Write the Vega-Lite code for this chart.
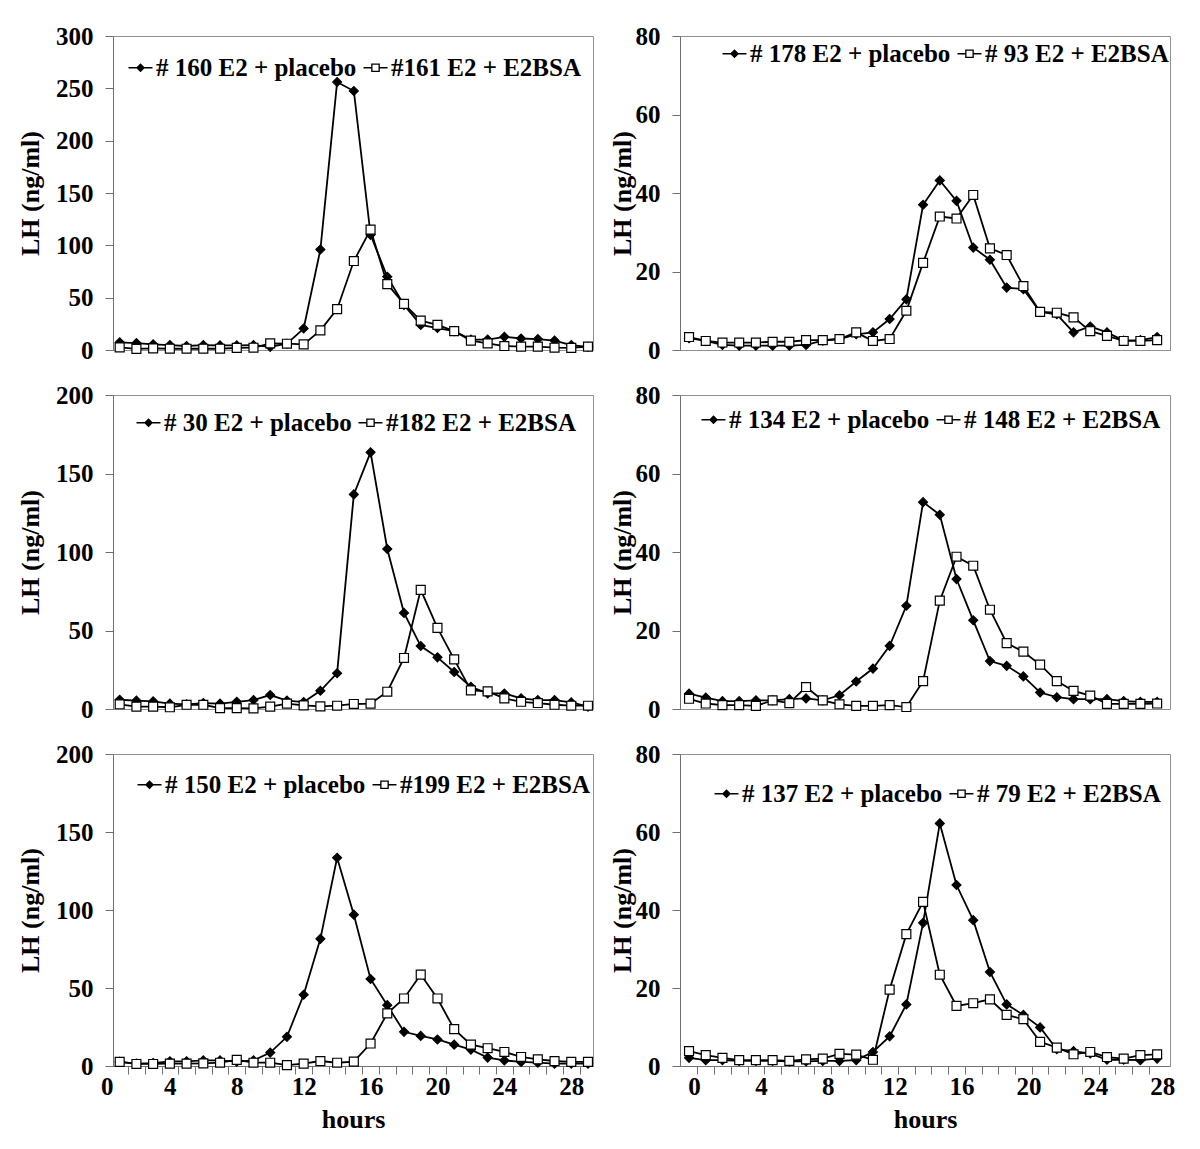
{
"$schema": "https://vega.github.io/schema/vega-lite/v6.json",
"background": "white",
"padding": {"left": 17, "top": 23, "right": 5, "bottom": 5},
"config": {
  "font": "Liberation Serif",
  "view": {"stroke": "#909090", "strokeWidth": 1},
  "axis": {"labelFont": "Liberation Serif", "labelFontSize": 25, "labelFontWeight": "bold", "labelColor": "black", "titleFont": "Liberation Serif", "titleFontSize": 26, "titleFontWeight": "bold", "titleColor": "black", "domainColor": "#707070", "tickColor": "#707070", "tickSize": 8, "grid": false, "labelPadding": 12},
  "legend": {"orient": "none", "direction": "horizontal", "labelFont": "Liberation Serif", "labelFontSize": 25, "labelFontWeight": "bold", "labelColor": "black", "labelLimit": 500, "symbolSize": 576, "symbolStrokeWidth": 0, "symbolOpacity": 1, "symbolFillColor": "black", "columnPadding": 6, "labelOffset": 3, "padding": 0}
},
"datasets": {
 "p1": [
  {"hour":1,"LH":7.3,"series":"# 160 E2 + placebo"},{"hour":2,"LH":6.6,"series":"# 160 E2 + placebo"},{"hour":3,"LH":5.4,"series":"# 160 E2 + placebo"},{"hour":4,"LH":4.7,"series":"# 160 E2 + placebo"},{"hour":5,"LH":3.8,"series":"# 160 E2 + placebo"},{"hour":6,"LH":4.7,"series":"# 160 E2 + placebo"},{"hour":7,"LH":4.4,"series":"# 160 E2 + placebo"},{"hour":8,"LH":4.4,"series":"# 160 E2 + placebo"},{"hour":9,"LH":4.7,"series":"# 160 E2 + placebo"},{"hour":10,"LH":3,"series":"# 160 E2 + placebo"},{"hour":11,"LH":6,"series":"# 160 E2 + placebo"},{"hour":12,"LH":20.5,"series":"# 160 E2 + placebo"},{"hour":13,"LH":96,"series":"# 160 E2 + placebo"},{"hour":14,"LH":256,"series":"# 160 E2 + placebo"},{"hour":15,"LH":247.5,"series":"# 160 E2 + placebo"},{"hour":16,"LH":110,"series":"# 160 E2 + placebo"},{"hour":17,"LH":70,"series":"# 160 E2 + placebo"},{"hour":18,"LH":43,"series":"# 160 E2 + placebo"},{"hour":19,"LH":24,"series":"# 160 E2 + placebo"},{"hour":20,"LH":21,"series":"# 160 E2 + placebo"},{"hour":21,"LH":18,"series":"# 160 E2 + placebo"},{"hour":22,"LH":10,"series":"# 160 E2 + placebo"},{"hour":23,"LH":10,"series":"# 160 E2 + placebo"},{"hour":24,"LH":12.6,"series":"# 160 E2 + placebo"},{"hour":25,"LH":11,"series":"# 160 E2 + placebo"},{"hour":26,"LH":10.4,"series":"# 160 E2 + placebo"},{"hour":27,"LH":9,"series":"# 160 E2 + placebo"},{"hour":28,"LH":4.7,"series":"# 160 E2 + placebo"},{"hour":29,"LH":3,"series":"# 160 E2 + placebo"},
  {"hour":1,"LH":2.5,"series":"#161 E2 + E2BSA"},{"hour":2,"LH":1,"series":"#161 E2 + E2BSA"},{"hour":3,"LH":1.5,"series":"#161 E2 + E2BSA"},{"hour":4,"LH":1.2,"series":"#161 E2 + E2BSA"},{"hour":5,"LH":1.2,"series":"#161 E2 + E2BSA"},{"hour":6,"LH":1.2,"series":"#161 E2 + E2BSA"},{"hour":7,"LH":1.2,"series":"#161 E2 + E2BSA"},{"hour":8,"LH":2,"series":"#161 E2 + E2BSA"},{"hour":9,"LH":2.2,"series":"#161 E2 + E2BSA"},{"hour":10,"LH":6.3,"series":"#161 E2 + E2BSA"},{"hour":11,"LH":6,"series":"#161 E2 + E2BSA"},{"hour":12,"LH":5.4,"series":"#161 E2 + E2BSA"},{"hour":13,"LH":18.7,"series":"#161 E2 + E2BSA"},{"hour":14,"LH":39,"series":"#161 E2 + E2BSA"},{"hour":15,"LH":85,"series":"#161 E2 + E2BSA"},{"hour":16,"LH":115,"series":"#161 E2 + E2BSA"},{"hour":17,"LH":63,"series":"#161 E2 + E2BSA"},{"hour":18,"LH":44,"series":"#161 E2 + E2BSA"},{"hour":19,"LH":28,"series":"#161 E2 + E2BSA"},{"hour":20,"LH":24,"series":"#161 E2 + E2BSA"},{"hour":21,"LH":18,"series":"#161 E2 + E2BSA"},{"hour":22,"LH":9,"series":"#161 E2 + E2BSA"},{"hour":23,"LH":6.3,"series":"#161 E2 + E2BSA"},{"hour":24,"LH":3.8,"series":"#161 E2 + E2BSA"},{"hour":25,"LH":3.2,"series":"#161 E2 + E2BSA"},{"hour":26,"LH":3.2,"series":"#161 E2 + E2BSA"},{"hour":27,"LH":2.2,"series":"#161 E2 + E2BSA"},{"hour":28,"LH":2,"series":"#161 E2 + E2BSA"},{"hour":29,"LH":3.2,"series":"#161 E2 + E2BSA"}
 ],
 "p2": [
  {"hour":-0.3,"LH":3.0,"series":"# 178 E2 + placebo"},{"hour":0.7,"LH":2.3,"series":"# 178 E2 + placebo"},{"hour":1.7,"LH":1.3,"series":"# 178 E2 + placebo"},{"hour":2.7,"LH":1.1,"series":"# 178 E2 + placebo"},{"hour":3.7,"LH":1.1,"series":"# 178 E2 + placebo"},{"hour":4.7,"LH":1.1,"series":"# 178 E2 + placebo"},{"hour":5.7,"LH":1.1,"series":"# 178 E2 + placebo"},{"hour":6.7,"LH":1.3,"series":"# 178 E2 + placebo"},{"hour":7.7,"LH":2.4,"series":"# 178 E2 + placebo"},{"hour":8.7,"LH":2.8,"series":"# 178 E2 + placebo"},{"hour":9.7,"LH":4.0,"series":"# 178 E2 + placebo"},{"hour":10.7,"LH":4.5,"series":"# 178 E2 + placebo"},{"hour":11.7,"LH":7.9,"series":"# 178 E2 + placebo"},{"hour":12.7,"LH":12.9,"series":"# 178 E2 + placebo"},{"hour":13.7,"LH":37,"series":"# 178 E2 + placebo"},{"hour":14.7,"LH":43.2,"series":"# 178 E2 + placebo"},{"hour":15.7,"LH":38,"series":"# 178 E2 + placebo"},{"hour":16.7,"LH":26.1,"series":"# 178 E2 + placebo"},{"hour":17.7,"LH":23,"series":"# 178 E2 + placebo"},{"hour":18.7,"LH":15.9,"series":"# 178 E2 + placebo"},{"hour":19.7,"LH":15.5,"series":"# 178 E2 + placebo"},{"hour":20.7,"LH":9.7,"series":"# 178 E2 + placebo"},{"hour":21.7,"LH":9.1,"series":"# 178 E2 + placebo"},{"hour":22.7,"LH":4.5,"series":"# 178 E2 + placebo"},{"hour":23.7,"LH":6,"series":"# 178 E2 + placebo"},{"hour":24.7,"LH":4.5,"series":"# 178 E2 + placebo"},{"hour":25.7,"LH":2.4,"series":"# 178 E2 + placebo"},{"hour":26.7,"LH":2.5,"series":"# 178 E2 + placebo"},{"hour":27.7,"LH":3.3,"series":"# 178 E2 + placebo"},
  {"hour":-0.3,"LH":3.3,"series":"# 93 E2 + E2BSA"},{"hour":0.7,"LH":2.3,"series":"# 93 E2 + E2BSA"},{"hour":1.7,"LH":1.9,"series":"# 93 E2 + E2BSA"},{"hour":2.7,"LH":1.9,"series":"# 93 E2 + E2BSA"},{"hour":3.7,"LH":1.9,"series":"# 93 E2 + E2BSA"},{"hour":4.7,"LH":2.1,"series":"# 93 E2 + E2BSA"},{"hour":5.7,"LH":2.1,"series":"# 93 E2 + E2BSA"},{"hour":6.7,"LH":2.5,"series":"# 93 E2 + E2BSA"},{"hour":7.7,"LH":2.5,"series":"# 93 E2 + E2BSA"},{"hour":8.7,"LH":2.8,"series":"# 93 E2 + E2BSA"},{"hour":9.7,"LH":4.5,"series":"# 93 E2 + E2BSA"},{"hour":10.7,"LH":2.3,"series":"# 93 E2 + E2BSA"},{"hour":11.7,"LH":2.8,"series":"# 93 E2 + E2BSA"},{"hour":12.7,"LH":10,"series":"# 93 E2 + E2BSA"},{"hour":13.7,"LH":22.2,"series":"# 93 E2 + E2BSA"},{"hour":14.7,"LH":34,"series":"# 93 E2 + E2BSA"},{"hour":15.7,"LH":33.5,"series":"# 93 E2 + E2BSA"},{"hour":16.7,"LH":39.5,"series":"# 93 E2 + E2BSA"},{"hour":17.7,"LH":25.9,"series":"# 93 E2 + E2BSA"},{"hour":18.7,"LH":24.2,"series":"# 93 E2 + E2BSA"},{"hour":19.7,"LH":16.3,"series":"# 93 E2 + E2BSA"},{"hour":20.7,"LH":9.7,"series":"# 93 E2 + E2BSA"},{"hour":21.7,"LH":9.5,"series":"# 93 E2 + E2BSA"},{"hour":22.7,"LH":8.3,"series":"# 93 E2 + E2BSA"},{"hour":23.7,"LH":4.8,"series":"# 93 E2 + E2BSA"},{"hour":24.7,"LH":3.6,"series":"# 93 E2 + E2BSA"},{"hour":25.7,"LH":2.3,"series":"# 93 E2 + E2BSA"},{"hour":26.7,"LH":2.3,"series":"# 93 E2 + E2BSA"},{"hour":27.7,"LH":2.5,"series":"# 93 E2 + E2BSA"}
 ],
 "p3": [
  {"hour":1,"LH":5.9,"series":"# 30 E2 + placebo"},{"hour":2,"LH":5.3,"series":"# 30 E2 + placebo"},{"hour":3,"LH":4.9,"series":"# 30 E2 + placebo"},{"hour":4,"LH":3.4,"series":"# 30 E2 + placebo"},{"hour":5,"LH":3,"series":"# 30 E2 + placebo"},{"hour":6,"LH":3.8,"series":"# 30 E2 + placebo"},{"hour":7,"LH":3.4,"series":"# 30 E2 + placebo"},{"hour":8,"LH":4.6,"series":"# 30 E2 + placebo"},{"hour":9,"LH":5.7,"series":"# 30 E2 + placebo"},{"hour":10,"LH":8.9,"series":"# 30 E2 + placebo"},{"hour":11,"LH":5.3,"series":"# 30 E2 + placebo"},{"hour":12,"LH":4.4,"series":"# 30 E2 + placebo"},{"hour":13,"LH":11.6,"series":"# 30 E2 + placebo"},{"hour":14,"LH":22.8,"series":"# 30 E2 + placebo"},{"hour":15,"LH":136.7,"series":"# 30 E2 + placebo"},{"hour":16,"LH":163.5,"series":"# 30 E2 + placebo"},{"hour":17,"LH":101.9,"series":"# 30 E2 + placebo"},{"hour":18,"LH":61.2,"series":"# 30 E2 + placebo"},{"hour":19,"LH":40.1,"series":"# 30 E2 + placebo"},{"hour":20,"LH":32.9,"series":"# 30 E2 + placebo"},{"hour":21,"LH":23.6,"series":"# 30 E2 + placebo"},{"hour":22,"LH":14.1,"series":"# 30 E2 + placebo"},{"hour":23,"LH":9.9,"series":"# 30 E2 + placebo"},{"hour":24,"LH":9.9,"series":"# 30 E2 + placebo"},{"hour":25,"LH":6.8,"series":"# 30 E2 + placebo"},{"hour":26,"LH":5.7,"series":"# 30 E2 + placebo"},{"hour":27,"LH":5.7,"series":"# 30 E2 + placebo"},{"hour":28,"LH":4.2,"series":"# 30 E2 + placebo"},{"hour":29,"LH":1.5,"series":"# 30 E2 + placebo"},
  {"hour":1,"LH":3,"series":"#182 E2 + E2BSA"},{"hour":2,"LH":1.5,"series":"#182 E2 + E2BSA"},{"hour":3,"LH":1.5,"series":"#182 E2 + E2BSA"},{"hour":4,"LH":1.1,"series":"#182 E2 + E2BSA"},{"hour":5,"LH":2.7,"series":"#182 E2 + E2BSA"},{"hour":6,"LH":2.7,"series":"#182 E2 + E2BSA"},{"hour":7,"LH":0.6,"series":"#182 E2 + E2BSA"},{"hour":8,"LH":0.6,"series":"#182 E2 + E2BSA"},{"hour":9,"LH":0.4,"series":"#182 E2 + E2BSA"},{"hour":10,"LH":1.5,"series":"#182 E2 + E2BSA"},{"hour":11,"LH":3.4,"series":"#182 E2 + E2BSA"},{"hour":12,"LH":2.3,"series":"#182 E2 + E2BSA"},{"hour":13,"LH":1.7,"series":"#182 E2 + E2BSA"},{"hour":14,"LH":2.1,"series":"#182 E2 + E2BSA"},{"hour":15,"LH":3.2,"series":"#182 E2 + E2BSA"},{"hour":16,"LH":3.4,"series":"#182 E2 + E2BSA"},{"hour":17,"LH":11,"series":"#182 E2 + E2BSA"},{"hour":18,"LH":32.5,"series":"#182 E2 + E2BSA"},{"hour":19,"LH":75.9,"series":"#182 E2 + E2BSA"},{"hour":20,"LH":51.7,"series":"#182 E2 + E2BSA"},{"hour":21,"LH":31.6,"series":"#182 E2 + E2BSA"},{"hour":22,"LH":11.8,"series":"#182 E2 + E2BSA"},{"hour":23,"LH":11.2,"series":"#182 E2 + E2BSA"},{"hour":24,"LH":6.8,"series":"#182 E2 + E2BSA"},{"hour":25,"LH":4.6,"series":"#182 E2 + E2BSA"},{"hour":26,"LH":3.8,"series":"#182 E2 + E2BSA"},{"hour":27,"LH":2.7,"series":"#182 E2 + E2BSA"},{"hour":28,"LH":2.1,"series":"#182 E2 + E2BSA"},{"hour":29,"LH":2.1,"series":"#182 E2 + E2BSA"}
 ],
 "p4": [
  {"hour":-0.3,"LH":3.9,"series":"# 134 E2 + placebo"},{"hour":0.7,"LH":2.9,"series":"# 134 E2 + placebo"},{"hour":1.7,"LH":2.0,"series":"# 134 E2 + placebo"},{"hour":2.7,"LH":2.0,"series":"# 134 E2 + placebo"},{"hour":3.7,"LH":2.2,"series":"# 134 E2 + placebo"},{"hour":4.7,"LH":2.2,"series":"# 134 E2 + placebo"},{"hour":5.7,"LH":2.5,"series":"# 134 E2 + placebo"},{"hour":6.7,"LH":2.7,"series":"# 134 E2 + placebo"},{"hour":7.7,"LH":2.2,"series":"# 134 E2 + placebo"},{"hour":8.7,"LH":3.5,"series":"# 134 E2 + placebo"},{"hour":9.7,"LH":7.0,"series":"# 134 E2 + placebo"},{"hour":10.7,"LH":10.3,"series":"# 134 E2 + placebo"},{"hour":11.7,"LH":16.1,"series":"# 134 E2 + placebo"},{"hour":12.7,"LH":26.3,"series":"# 134 E2 + placebo"},{"hour":13.7,"LH":52.7,"series":"# 134 E2 + placebo"},{"hour":14.7,"LH":49.5,"series":"# 134 E2 + placebo"},{"hour":15.7,"LH":33.1,"series":"# 134 E2 + placebo"},{"hour":16.7,"LH":22.6,"series":"# 134 E2 + placebo"},{"hour":17.7,"LH":12.2,"series":"# 134 E2 + placebo"},{"hour":18.7,"LH":11,"series":"# 134 E2 + placebo"},{"hour":19.7,"LH":8.3,"series":"# 134 E2 + placebo"},{"hour":20.7,"LH":4.2,"series":"# 134 E2 + placebo"},{"hour":21.7,"LH":3.0,"series":"# 134 E2 + placebo"},{"hour":22.7,"LH":2.5,"series":"# 134 E2 + placebo"},{"hour":23.7,"LH":2.5,"series":"# 134 E2 + placebo"},{"hour":24.7,"LH":2.5,"series":"# 134 E2 + placebo"},{"hour":25.7,"LH":2.0,"series":"# 134 E2 + placebo"},{"hour":26.7,"LH":1.8,"series":"# 134 E2 + placebo"},{"hour":27.7,"LH":1.8,"series":"# 134 E2 + placebo"},
  {"hour":-0.3,"LH":2.6,"series":"# 148 E2 + E2BSA"},{"hour":0.7,"LH":1.4,"series":"# 148 E2 + E2BSA"},{"hour":1.7,"LH":1.0,"series":"# 148 E2 + E2BSA"},{"hour":2.7,"LH":1.0,"series":"# 148 E2 + E2BSA"},{"hour":3.7,"LH":0.8,"series":"# 148 E2 + E2BSA"},{"hour":4.7,"LH":2.2,"series":"# 148 E2 + E2BSA"},{"hour":5.7,"LH":1.5,"series":"# 148 E2 + E2BSA"},{"hour":6.7,"LH":5.6,"series":"# 148 E2 + E2BSA"},{"hour":7.7,"LH":2.2,"series":"# 148 E2 + E2BSA"},{"hour":8.7,"LH":1.2,"series":"# 148 E2 + E2BSA"},{"hour":9.7,"LH":0.8,"series":"# 148 E2 + E2BSA"},{"hour":10.7,"LH":0.8,"series":"# 148 E2 + E2BSA"},{"hour":11.7,"LH":1.0,"series":"# 148 E2 + E2BSA"},{"hour":12.7,"LH":0.5,"series":"# 148 E2 + E2BSA"},{"hour":13.7,"LH":7.1,"series":"# 148 E2 + E2BSA"},{"hour":14.7,"LH":27.6,"series":"# 148 E2 + E2BSA"},{"hour":15.7,"LH":38.8,"series":"# 148 E2 + E2BSA"},{"hour":16.7,"LH":36.5,"series":"# 148 E2 + E2BSA"},{"hour":17.7,"LH":25.3,"series":"# 148 E2 + E2BSA"},{"hour":18.7,"LH":16.8,"series":"# 148 E2 + E2BSA"},{"hour":19.7,"LH":14.6,"series":"# 148 E2 + E2BSA"},{"hour":20.7,"LH":11.3,"series":"# 148 E2 + E2BSA"},{"hour":21.7,"LH":7.1,"series":"# 148 E2 + E2BSA"},{"hour":22.7,"LH":4.6,"series":"# 148 E2 + E2BSA"},{"hour":23.7,"LH":3.4,"series":"# 148 E2 + E2BSA"},{"hour":24.7,"LH":1.3,"series":"# 148 E2 + E2BSA"},{"hour":25.7,"LH":1.3,"series":"# 148 E2 + E2BSA"},{"hour":26.7,"LH":1.3,"series":"# 148 E2 + E2BSA"},{"hour":27.7,"LH":1.4,"series":"# 148 E2 + E2BSA"}
 ],
 "p5": [
  {"hour":1,"LH":2.6,"series":"# 150 E2 + placebo"},{"hour":2,"LH":1.5,"series":"# 150 E2 + placebo"},{"hour":3,"LH":1.9,"series":"# 150 E2 + placebo"},{"hour":4,"LH":3,"series":"# 150 E2 + placebo"},{"hour":5,"LH":3,"series":"# 150 E2 + placebo"},{"hour":6,"LH":3.6,"series":"# 150 E2 + placebo"},{"hour":7,"LH":3.6,"series":"# 150 E2 + placebo"},{"hour":8,"LH":2.8,"series":"# 150 E2 + placebo"},{"hour":9,"LH":3.6,"series":"# 150 E2 + placebo"},{"hour":10,"LH":8.6,"series":"# 150 E2 + placebo"},{"hour":11,"LH":18.7,"series":"# 150 E2 + placebo"},{"hour":12,"LH":45.7,"series":"# 150 E2 + placebo"},{"hour":13,"LH":81.5,"series":"# 150 E2 + placebo"},{"hour":14,"LH":133.5,"series":"# 150 E2 + placebo"},{"hour":15,"LH":97,"series":"# 150 E2 + placebo"},{"hour":16,"LH":55.8,"series":"# 150 E2 + placebo"},{"hour":17,"LH":39,"series":"# 150 E2 + placebo"},{"hour":18,"LH":21.9,"series":"# 150 E2 + placebo"},{"hour":19,"LH":19.3,"series":"# 150 E2 + placebo"},{"hour":20,"LH":17,"series":"# 150 E2 + placebo"},{"hour":21,"LH":13.7,"series":"# 150 E2 + placebo"},{"hour":22,"LH":10.5,"series":"# 150 E2 + placebo"},{"hour":23,"LH":5.4,"series":"# 150 E2 + placebo"},{"hour":24,"LH":3.6,"series":"# 150 E2 + placebo"},{"hour":25,"LH":2.6,"series":"# 150 E2 + placebo"},{"hour":26,"LH":2.1,"series":"# 150 E2 + placebo"},{"hour":27,"LH":1.5,"series":"# 150 E2 + placebo"},{"hour":28,"LH":1.5,"series":"# 150 E2 + placebo"},{"hour":29,"LH":1.5,"series":"# 150 E2 + placebo"},
  {"hour":1,"LH":2.6,"series":"#199 E2 + E2BSA"},{"hour":2,"LH":1.3,"series":"#199 E2 + E2BSA"},{"hour":3,"LH":1.3,"series":"#199 E2 + E2BSA"},{"hour":4,"LH":1.5,"series":"#199 E2 + E2BSA"},{"hour":5,"LH":1.5,"series":"#199 E2 + E2BSA"},{"hour":6,"LH":1.7,"series":"#199 E2 + E2BSA"},{"hour":7,"LH":2.1,"series":"#199 E2 + E2BSA"},{"hour":8,"LH":3.9,"series":"#199 E2 + E2BSA"},{"hour":9,"LH":2.1,"series":"#199 E2 + E2BSA"},{"hour":10,"LH":2.1,"series":"#199 E2 + E2BSA"},{"hour":11,"LH":0.6,"series":"#199 E2 + E2BSA"},{"hour":12,"LH":1.5,"series":"#199 E2 + E2BSA"},{"hour":13,"LH":3.2,"series":"#199 E2 + E2BSA"},{"hour":14,"LH":2.1,"series":"#199 E2 + E2BSA"},{"hour":15,"LH":2.8,"series":"#199 E2 + E2BSA"},{"hour":16,"LH":14.4,"series":"#199 E2 + E2BSA"},{"hour":17,"LH":33.7,"series":"#199 E2 + E2BSA"},{"hour":18,"LH":43.3,"series":"#199 E2 + E2BSA"},{"hour":19,"LH":58.6,"series":"#199 E2 + E2BSA"},{"hour":20,"LH":43.3,"series":"#199 E2 + E2BSA"},{"hour":21,"LH":23.6,"series":"#199 E2 + E2BSA"},{"hour":22,"LH":13.7,"series":"#199 E2 + E2BSA"},{"hour":23,"LH":11.4,"series":"#199 E2 + E2BSA"},{"hour":24,"LH":9,"series":"#199 E2 + E2BSA"},{"hour":25,"LH":5.8,"series":"#199 E2 + E2BSA"},{"hour":26,"LH":4.3,"series":"#199 E2 + E2BSA"},{"hour":27,"LH":3.2,"series":"#199 E2 + E2BSA"},{"hour":28,"LH":2.6,"series":"#199 E2 + E2BSA"},{"hour":29,"LH":2.6,"series":"#199 E2 + E2BSA"}
 ],
 "p6": [
  {"hour":-0.3,"LH":2.1,"series":"# 137 E2 + placebo"},{"hour":0.7,"LH":1.5,"series":"# 137 E2 + placebo"},{"hour":1.7,"LH":1.5,"series":"# 137 E2 + placebo"},{"hour":2.7,"LH":1.3,"series":"# 137 E2 + placebo"},{"hour":3.7,"LH":1.3,"series":"# 137 E2 + placebo"},{"hour":4.7,"LH":1.3,"series":"# 137 E2 + placebo"},{"hour":5.7,"LH":1.2,"series":"# 137 E2 + placebo"},{"hour":6.7,"LH":1.2,"series":"# 137 E2 + placebo"},{"hour":7.7,"LH":1.3,"series":"# 137 E2 + placebo"},{"hour":8.7,"LH":1.3,"series":"# 137 E2 + placebo"},{"hour":9.7,"LH":1.5,"series":"# 137 E2 + placebo"},{"hour":10.7,"LH":3.6,"series":"# 137 E2 + placebo"},{"hour":11.7,"LH":7.6,"series":"# 137 E2 + placebo"},{"hour":12.7,"LH":15.8,"series":"# 137 E2 + placebo"},{"hour":13.7,"LH":36.7,"series":"# 137 E2 + placebo"},{"hour":14.7,"LH":62.2,"series":"# 137 E2 + placebo"},{"hour":15.7,"LH":46.4,"series":"# 137 E2 + placebo"},{"hour":16.7,"LH":37.4,"series":"# 137 E2 + placebo"},{"hour":17.7,"LH":24.1,"series":"# 137 E2 + placebo"},{"hour":18.7,"LH":15.8,"series":"# 137 E2 + placebo"},{"hour":19.7,"LH":13.1,"series":"# 137 E2 + placebo"},{"hour":20.7,"LH":9.9,"series":"# 137 E2 + placebo"},{"hour":21.7,"LH":4.3,"series":"# 137 E2 + placebo"},{"hour":22.7,"LH":3.8,"series":"# 137 E2 + placebo"},{"hour":23.7,"LH":3.2,"series":"# 137 E2 + placebo"},{"hour":24.7,"LH":1.6,"series":"# 137 E2 + placebo"},{"hour":25.7,"LH":1.6,"series":"# 137 E2 + placebo"},{"hour":26.7,"LH":1.5,"series":"# 137 E2 + placebo"},{"hour":27.7,"LH":1.9,"series":"# 137 E2 + placebo"},
  {"hour":-0.3,"LH":3.8,"series":"# 79 E2 + E2BSA"},{"hour":0.7,"LH":2.8,"series":"# 79 E2 + E2BSA"},{"hour":1.7,"LH":2.1,"series":"# 79 E2 + E2BSA"},{"hour":2.7,"LH":1.5,"series":"# 79 E2 + E2BSA"},{"hour":3.7,"LH":1.5,"series":"# 79 E2 + E2BSA"},{"hour":4.7,"LH":1.5,"series":"# 79 E2 + E2BSA"},{"hour":5.7,"LH":1.3,"series":"# 79 E2 + E2BSA"},{"hour":6.7,"LH":1.7,"series":"# 79 E2 + E2BSA"},{"hour":7.7,"LH":1.9,"series":"# 79 E2 + E2BSA"},{"hour":8.7,"LH":3.1,"series":"# 79 E2 + E2BSA"},{"hour":9.7,"LH":2.9,"series":"# 79 E2 + E2BSA"},{"hour":10.7,"LH":1.6,"series":"# 79 E2 + E2BSA"},{"hour":11.7,"LH":19.6,"series":"# 79 E2 + E2BSA"},{"hour":12.7,"LH":33.8,"series":"# 79 E2 + E2BSA"},{"hour":13.7,"LH":42.1,"series":"# 79 E2 + E2BSA"},{"hour":14.7,"LH":23.4,"series":"# 79 E2 + E2BSA"},{"hour":15.7,"LH":15.4,"series":"# 79 E2 + E2BSA"},{"hour":16.7,"LH":16.1,"series":"# 79 E2 + E2BSA"},{"hour":17.7,"LH":17.1,"series":"# 79 E2 + E2BSA"},{"hour":18.7,"LH":13.1,"series":"# 79 E2 + E2BSA"},{"hour":19.7,"LH":12,"series":"# 79 E2 + E2BSA"},{"hour":20.7,"LH":6.2,"series":"# 79 E2 + E2BSA"},{"hour":21.7,"LH":4.7,"series":"# 79 E2 + E2BSA"},{"hour":22.7,"LH":3,"series":"# 79 E2 + E2BSA"},{"hour":23.7,"LH":3.6,"series":"# 79 E2 + E2BSA"},{"hour":24.7,"LH":2.3,"series":"# 79 E2 + E2BSA"},{"hour":25.7,"LH":1.9,"series":"# 79 E2 + E2BSA"},{"hour":26.7,"LH":2.8,"series":"# 79 E2 + E2BSA"},{"hour":27.7,"LH":3,"series":"# 79 E2 + E2BSA"}
 ]
},
"spacing": 18,
"resolve": {"scale": {"x": "independent", "y": "independent", "shape": "independent", "fill": "independent"}, "legend": {"shape": "independent", "fill": "independent"}},
"vconcat": [
 {"hconcat": [
  {"width": 480, "height": 314, "data": {"name": "p1"},
   "layer": [
    {"mark": {"type": "line", "color": "black", "strokeWidth": 1.8},
     "encoding": {
      "x": {"field": "hour", "type": "quantitative", "scale": {"domain": [0.6, 29.3], "nice": false, "zero": false}, "axis": {"orient": "bottom", "values": [1.5,2.5,3.5,4.5,5.5,6.5,7.5,8.5,9.5,10.5,11.5,12.5,13.5,14.5,15.5,16.5,17.5,18.5,19.5,20.5,21.5,22.5,23.5,24.5,25.5,26.5,27.5,28.5], "labels": false, "title": null}},
      "y": {"field": "LH", "type": "quantitative", "scale": {"domain": [0, 300], "nice": false}, "axis": {"values": [0,50,100,150,200,250,300], "title": "LH (ng/ml)", "titlePadding": 12}},
      "detail": {"field": "series", "type": "nominal"}}},
    {"mark": {"type": "point", "filled": true, "stroke": "black", "strokeWidth": 1.2, "size": 80, "opacity": 1},
     "encoding": {
      "x": {"field": "hour", "type": "quantitative", "axis": null},
      "y": {"field": "LH", "type": "quantitative"},
      "shape": {"field": "series", "type": "nominal", "scale": {"range": ["diamond", "square"]}, "legend": null},
      "fill": {"field": "series", "type": "nominal", "scale": {"range": ["black", "white"]}, "legend": null}}},
    {"mark": {"type": "point", "filled": true, "fill": "black", "strokeWidth": 0, "opacity": 0},
     "encoding": {
      "x": {"field": "hour", "type": "quantitative", "axis": null},
      "y": {"field": "LH", "type": "quantitative"},
      "shape": {"field": "series", "type": "nominal", "scale": {"range": ["M-1,-0.07H-0.3V0.07H-1Z M-0.375,0L0,-0.375L0.375,0L0,0.375Z M0.3,-0.07H1V0.07H0.3Z", "M-1,-0.07H-0.36V0.07H-1Z M-0.36,-0.36H0.36V0.36H-0.36Z M-0.25,-0.25V0.25H0.25V-0.25Z M0.36,-0.07H1V0.07H0.36Z"]}, "legend": {"title": null, "legendX": 15, "legendY": 19}}}}
   ],
   "resolve": {"scale": {"shape": "independent"}}},
  {"width": 490, "height": 314, "data": {"name": "p2"},
   "layer": [
    {"mark": {"type": "line", "color": "black", "strokeWidth": 1.8},
     "encoding": {
      "x": {"field": "hour", "type": "quantitative", "scale": {"domain": [-0.84, 28.47], "nice": false, "zero": false}, "axis": {"orient": "bottom", "values": [0.2,1.2,2.2,3.2,4.2,5.2,6.2,7.2,8.2,9.2,10.2,11.2,12.2,13.2,14.2,15.2,16.2,17.2,18.2,19.2,20.2,21.2,22.2,23.2,24.2,25.2,26.2,27.2], "labels": false, "title": null}},
      "y": {"field": "LH", "type": "quantitative", "scale": {"domain": [0, 80], "nice": false}, "axis": {"values": [0,20,40,60,80], "title": "LH (ng/ml)", "titlePadding": 0}},
      "detail": {"field": "series", "type": "nominal"}}},
    {"mark": {"type": "point", "filled": true, "stroke": "black", "strokeWidth": 1.2, "size": 80, "opacity": 1},
     "encoding": {
      "x": {"field": "hour", "type": "quantitative", "axis": null},
      "y": {"field": "LH", "type": "quantitative"},
      "shape": {"field": "series", "type": "nominal", "scale": {"range": ["diamond", "square"]}, "legend": null},
      "fill": {"field": "series", "type": "nominal", "scale": {"range": ["black", "white"]}, "legend": null}}},
    {"mark": {"type": "point", "filled": true, "fill": "black", "strokeWidth": 0, "opacity": 0},
     "encoding": {
      "x": {"field": "hour", "type": "quantitative", "axis": null},
      "y": {"field": "LH", "type": "quantitative"},
      "shape": {"field": "series", "type": "nominal", "scale": {"range": ["M-1,-0.07H-0.3V0.07H-1Z M-0.375,0L0,-0.375L0.375,0L0,0.375Z M0.3,-0.07H1V0.07H0.3Z", "M-1,-0.07H-0.36V0.07H-1Z M-0.36,-0.36H0.36V0.36H-0.36Z M-0.25,-0.25V0.25H0.25V-0.25Z M0.36,-0.07H1V0.07H0.36Z"]}, "legend": {"title": null, "legendX": 42, "legendY": 5}}}}
   ],
   "resolve": {"scale": {"shape": "independent"}}}
 ], "spacing": 12,
 "resolve": {"scale": {"x": "independent", "y": "independent", "shape": "independent", "fill": "independent"}, "legend": {"shape": "independent", "fill": "independent"}}},
 {"hconcat": [
  {"width": 480, "height": 314, "data": {"name": "p3"},
   "layer": [
    {"mark": {"type": "line", "color": "black", "strokeWidth": 1.8},
     "encoding": {
      "x": {"field": "hour", "type": "quantitative", "scale": {"domain": [0.6, 29.3], "nice": false, "zero": false}, "axis": {"orient": "bottom", "values": [1.5,2.5,3.5,4.5,5.5,6.5,7.5,8.5,9.5,10.5,11.5,12.5,13.5,14.5,15.5,16.5,17.5,18.5,19.5,20.5,21.5,22.5,23.5,24.5,25.5,26.5,27.5,28.5], "labels": false, "title": null}},
      "y": {"field": "LH", "type": "quantitative", "scale": {"domain": [0, 200], "nice": false}, "axis": {"values": [0,50,100,150,200], "title": "LH (ng/ml)", "titlePadding": 12}},
      "detail": {"field": "series", "type": "nominal"}}},
    {"mark": {"type": "point", "filled": true, "stroke": "black", "strokeWidth": 1.2, "size": 80, "opacity": 1},
     "encoding": {
      "x": {"field": "hour", "type": "quantitative", "axis": null},
      "y": {"field": "LH", "type": "quantitative"},
      "shape": {"field": "series", "type": "nominal", "scale": {"range": ["diamond", "square"]}, "legend": null},
      "fill": {"field": "series", "type": "nominal", "scale": {"range": ["black", "white"]}, "legend": null}}},
    {"mark": {"type": "point", "filled": true, "fill": "black", "strokeWidth": 0, "opacity": 0},
     "encoding": {
      "x": {"field": "hour", "type": "quantitative", "axis": null},
      "y": {"field": "LH", "type": "quantitative"},
      "shape": {"field": "series", "type": "nominal", "scale": {"range": ["M-1,-0.07H-0.3V0.07H-1Z M-0.375,0L0,-0.375L0.375,0L0,0.375Z M0.3,-0.07H1V0.07H0.3Z", "M-1,-0.07H-0.36V0.07H-1Z M-0.36,-0.36H0.36V0.36H-0.36Z M-0.25,-0.25V0.25H0.25V-0.25Z M0.36,-0.07H1V0.07H0.36Z"]}, "legend": {"title": null, "legendX": 23, "legendY": 15}}}}
   ],
   "resolve": {"scale": {"shape": "independent"}}},
  {"width": 490, "height": 314, "data": {"name": "p4"},
   "layer": [
    {"mark": {"type": "line", "color": "black", "strokeWidth": 1.8},
     "encoding": {
      "x": {"field": "hour", "type": "quantitative", "scale": {"domain": [-0.84, 28.47], "nice": false, "zero": false}, "axis": {"orient": "bottom", "values": [0.2,1.2,2.2,3.2,4.2,5.2,6.2,7.2,8.2,9.2,10.2,11.2,12.2,13.2,14.2,15.2,16.2,17.2,18.2,19.2,20.2,21.2,22.2,23.2,24.2,25.2,26.2,27.2], "labels": false, "title": null}},
      "y": {"field": "LH", "type": "quantitative", "scale": {"domain": [0, 80], "nice": false}, "axis": {"values": [0,20,40,60,80], "title": "LH (ng/ml)", "titlePadding": 0}},
      "detail": {"field": "series", "type": "nominal"}}},
    {"mark": {"type": "point", "filled": true, "stroke": "black", "strokeWidth": 1.2, "size": 80, "opacity": 1},
     "encoding": {
      "x": {"field": "hour", "type": "quantitative", "axis": null},
      "y": {"field": "LH", "type": "quantitative"},
      "shape": {"field": "series", "type": "nominal", "scale": {"range": ["diamond", "square"]}, "legend": null},
      "fill": {"field": "series", "type": "nominal", "scale": {"range": ["black", "white"]}, "legend": null}}},
    {"mark": {"type": "point", "filled": true, "fill": "black", "strokeWidth": 0, "opacity": 0},
     "encoding": {
      "x": {"field": "hour", "type": "quantitative", "axis": null},
      "y": {"field": "LH", "type": "quantitative"},
      "shape": {"field": "series", "type": "nominal", "scale": {"range": ["M-1,-0.07H-0.3V0.07H-1Z M-0.375,0L0,-0.375L0.375,0L0,0.375Z M0.3,-0.07H1V0.07H0.3Z", "M-1,-0.07H-0.36V0.07H-1Z M-0.36,-0.36H0.36V0.36H-0.36Z M-0.25,-0.25V0.25H0.25V-0.25Z M0.36,-0.07H1V0.07H0.36Z"]}, "legend": {"title": null, "legendX": 21, "legendY": 12}}}}
   ],
   "resolve": {"scale": {"shape": "independent"}}}
 ], "spacing": 12,
 "resolve": {"scale": {"x": "independent", "y": "independent", "shape": "independent", "fill": "independent"}, "legend": {"shape": "independent", "fill": "independent"}}},
 {"hconcat": [
  {"width": 480, "height": 312, "data": {"name": "p5"},
   "layer": [
    {"mark": {"type": "line", "color": "black", "strokeWidth": 1.8},
     "encoding": {
      "x": {"field": "hour", "type": "quantitative", "scale": {"domain": [0.6, 29.3], "nice": false, "zero": false}, "axis": {"orient": "bottom", "values": [1.5,2.5,3.5,4.5,5.5,6.5,7.5,8.5,9.5,10.5,11.5,12.5,13.5,14.5,15.5,16.5,17.5,18.5,19.5,20.5,21.5,22.5,23.5,24.5,25.5,26.5,27.5,28.5], "labels": false, "title": null}},
      "y": {"field": "LH", "type": "quantitative", "scale": {"domain": [0, 200], "nice": false}, "axis": {"values": [0,50,100,150,200], "title": "LH (ng/ml)", "titlePadding": 12}},
      "detail": {"field": "series", "type": "nominal"}}},
    {"mark": {"type": "point", "filled": true, "stroke": "black", "strokeWidth": 1.2, "size": 80, "opacity": 1},
     "encoding": {
      "x": {"field": "hour", "type": "quantitative", "axis": {"orient": "bottom", "values": [0.6,4,8,12,16,20,24,28], "labelExpr": "datum.value < 1 ? '0' : datum.label", "labelAlign": {"expr": "datum.value < 1 ? 'right' : 'center'"}, "ticks": false, "domain": false, "labelPadding": 8, "labelFlush": false, "labelOverlap": false, "title": "hours", "titlePadding": 7}},
      "y": {"field": "LH", "type": "quantitative"},
      "shape": {"field": "series", "type": "nominal", "scale": {"range": ["diamond", "square"]}, "legend": null},
      "fill": {"field": "series", "type": "nominal", "scale": {"range": ["black", "white"]}, "legend": null}}},
    {"mark": {"type": "point", "filled": true, "fill": "black", "strokeWidth": 0, "opacity": 0},
     "encoding": {
      "x": {"field": "hour", "type": "quantitative", "axis": null},
      "y": {"field": "LH", "type": "quantitative"},
      "shape": {"field": "series", "type": "nominal", "scale": {"range": ["M-1,-0.07H-0.3V0.07H-1Z M-0.375,0L0,-0.375L0.375,0L0,0.375Z M0.3,-0.07H1V0.07H0.3Z", "M-1,-0.07H-0.36V0.07H-1Z M-0.36,-0.36H0.36V0.36H-0.36Z M-0.25,-0.25V0.25H0.25V-0.25Z M0.36,-0.07H1V0.07H0.36Z"]}, "legend": {"title": null, "legendX": 24, "legendY": 18}}}}
   ],
   "resolve": {"scale": {"shape": "independent"}, "axis": {"x": "independent"}}},
  {"width": 490, "height": 312, "data": {"name": "p6"},
   "layer": [
    {"mark": {"type": "line", "color": "black", "strokeWidth": 1.8},
     "encoding": {
      "x": {"field": "hour", "type": "quantitative", "scale": {"domain": [-0.84, 28.47], "nice": false, "zero": false}, "axis": {"orient": "bottom", "values": [0.2,1.2,2.2,3.2,4.2,5.2,6.2,7.2,8.2,9.2,10.2,11.2,12.2,13.2,14.2,15.2,16.2,17.2,18.2,19.2,20.2,21.2,22.2,23.2,24.2,25.2,26.2,27.2], "labels": false, "title": null}},
      "y": {"field": "LH", "type": "quantitative", "scale": {"domain": [0, 80], "nice": false}, "axis": {"values": [0,20,40,60,80], "title": "LH (ng/ml)", "titlePadding": 0}},
      "detail": {"field": "series", "type": "nominal"}}},
    {"mark": {"type": "point", "filled": true, "stroke": "black", "strokeWidth": 1.2, "size": 80, "opacity": 1},
     "encoding": {
      "x": {"field": "hour", "type": "quantitative", "axis": {"orient": "bottom", "values": [0,4,8,12,16,20,24,28], "ticks": false, "domain": false, "labelPadding": 8, "labelFlush": false, "labelOverlap": false, "title": "hours", "titlePadding": 7}},
      "y": {"field": "LH", "type": "quantitative"},
      "shape": {"field": "series", "type": "nominal", "scale": {"range": ["diamond", "square"]}, "legend": null},
      "fill": {"field": "series", "type": "nominal", "scale": {"range": ["black", "white"]}, "legend": null}}},
    {"mark": {"type": "point", "filled": true, "fill": "black", "strokeWidth": 0, "opacity": 0},
     "encoding": {
      "x": {"field": "hour", "type": "quantitative", "axis": null},
      "y": {"field": "LH", "type": "quantitative"},
      "shape": {"field": "series", "type": "nominal", "scale": {"range": ["M-1,-0.07H-0.3V0.07H-1Z M-0.375,0L0,-0.375L0.375,0L0,0.375Z M0.3,-0.07H1V0.07H0.3Z", "M-1,-0.07H-0.36V0.07H-1Z M-0.36,-0.36H0.36V0.36H-0.36Z M-0.25,-0.25V0.25H0.25V-0.25Z M0.36,-0.07H1V0.07H0.36Z"]}, "legend": {"title": null, "legendX": 34, "legendY": 27}}}}
   ],
   "resolve": {"scale": {"shape": "independent"}, "axis": {"x": "independent"}}}
 ], "spacing": 12,
 "resolve": {"scale": {"x": "independent", "y": "independent", "shape": "independent", "fill": "independent"}, "legend": {"shape": "independent", "fill": "independent"}}}
]
}
